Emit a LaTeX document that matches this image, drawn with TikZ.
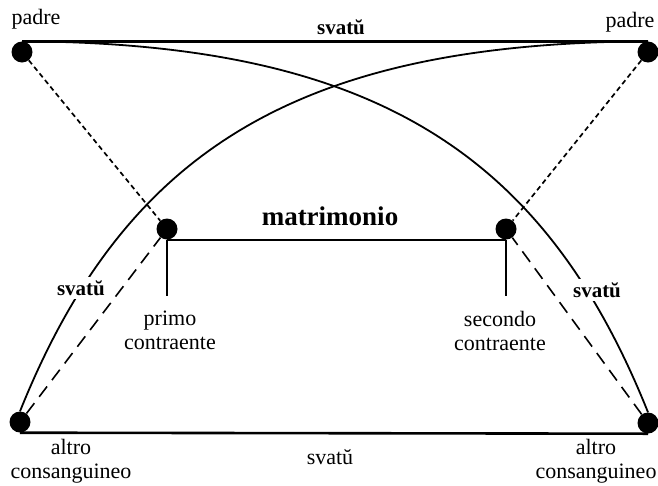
\documentclass[tikz,border=0pt]{standalone}
\usepackage{fontspec}
\setmainfont{Liberation Serif}
\begin{document}
\begin{tikzpicture}[x=1pt,y=-1pt,
  dot/.style={circle,fill=black,inner sep=0pt,minimum size=21pt},
  lbl/.style={font=\fontsize{22}{24}\selectfont,align=center,inner sep=1pt},
  blbl/.style={font=\fontsize{21}{24}\selectfont\bfseries,inner sep=3pt,fill=white},
  mlbl/.style={font=\fontsize{27}{30}\selectfont\bfseries,inner sep=1pt},
  heavy/.style={line width=2.6pt},
  arcline/.style={line width=1.8pt},
  thinline/.style={line width=1.4pt},
  shortdash/.style={line width=1.7pt,dash pattern=on 5pt off 3.5pt},
  longdash/.style={line width=1.6pt,dash pattern=on 13pt off 8pt}]
\useasboundingbox (0,0) rectangle (658,485);
% dots
\node[dot] (pL) at (22,52) {};
\node[dot] (pR) at (648,52) {};
\node[dot] (bL) at (20,422) {};
\node[dot] (bR) at (648,423) {};
\node[dot] (mL) at (167,229) {};
\node[dot] (mR) at (506,229) {};
\coordinate (vL) at (167,296);
\coordinate (vR) at (506,296);
% solid lines
\draw[heavy] (pL.north) -- (pR.north);
\draw[heavy] (bL.south) -- (bR.south);
\draw[line width=2.4pt] (mL.south) -- (mR.south);
\draw[thinline] (mL.south) -- (vL);
\draw[thinline] (mR.south) -- (vR);
% arcs
\draw[arcline] (bL.north) .. controls (125,150) and (298,43) .. (pR.north);
\draw[arcline] (pL.north) .. controls (370,43) and (543,150) .. (bR.north);
% dashed lines
\draw[shortdash] (pL) -- (mL);
\draw[shortdash] (pR) -- (mR);
\draw[longdash] (bL) -- (mL);
\draw[longdash] (bR) -- (mR);
% labels
\node[lbl] (tpL) at (36,19) {padre};
\node[lbl] (tpR) at (630,22) {padre};
\node[blbl] (sT) at (341,27) {svatŭ};
\node[mlbl] (mat) at (330,216) {matrimonio};
\node[lbl] (prim) at (170,330) {primo\\contraente};
\node[lbl] (sec) at (500,331) {secondo\\contraente};
\node[blbl] (sLft) at (81,288) {svatŭ};
\node[blbl] (sRgt) at (597,290) {svatŭ};
\node[lbl] (sB) at (330,457) {svatŭ};
\node[lbl] (aL) at (71,461) {altro\\consanguineo};
\node[lbl] (aR) at (596,461) {altro\\consanguineo};
\end{tikzpicture}
\end{document}
